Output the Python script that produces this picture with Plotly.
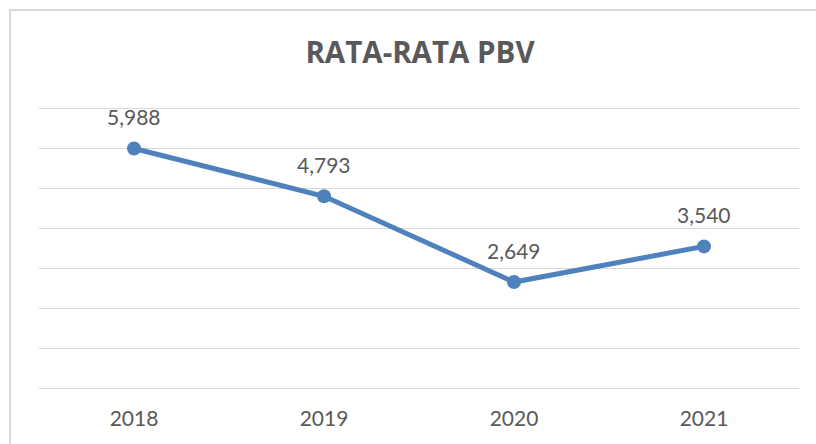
import plotly.graph_objects as go

years = ["2018", "2019", "2020", "2021"]
pbv = [5.988, 4.793, 2.649, 3.540]
labels = [f"{v:.3f}".replace(".", ",") for v in pbv]
title = "RATA-RATA PBV"

blue = "#4F81BD"
txt = "#595959"
grid = "#D9D9D9"
font = "Lato"

fig = go.Figure()
fig.add_trace(go.Scatter(
    x=years, y=pbv, mode="lines+markers",
    line=dict(color=blue, width=5),
    marker=dict(color=blue, size=14),
    hoverinfo="skip", cliponaxis=False,
))

annotations = [
    dict(x=i, y=y, xref="x", yref="y", text=t, showarrow=False, yshift=32,
         font=dict(family=font, size=21, color=txt))
    for i, (y, t) in enumerate(zip(pbv, labels))
]

# plot area: x 39..799, y 104..392 (range -0.1..7.1 -> 40 px per unit)
shapes = [dict(type="rect", xref="paper", yref="paper",
               x0=(10 - 39) / 760, x1=(830 - 39) / 760,
               y0=(392 - 460) / 288, y1=(392 - 10) / 288,
               line=dict(color=grid, width=2), layer="below")]

fig.update_layout(
    width=816, height=444,
    margin=dict(l=39, r=17, t=104, b=52),
    paper_bgcolor="white", plot_bgcolor="white",
    showlegend=False,
    annotations=annotations,
    shapes=shapes,
    title=dict(text=f"<b>{title}</b>", x=420 / 816, xanchor="center",
               y=1 - 53 / 444, yanchor="middle",
               font=dict(family="Open Sans", size=29.5, color=txt)),
    xaxis=dict(type="category", range=[-0.5, 3.5], showgrid=False,
               showline=False, zeroline=False, ticks="",
               ticklabelstandoff=12,
               tickfont=dict(family=font, size=21, color=txt)),
    yaxis=dict(range=[-0.1, 7.1], tick0=0, dtick=1, showgrid=True,
               gridcolor=grid, gridwidth=1, showticklabels=False,
               zeroline=False, showline=False, ticks=""),
)
fig.write_html("out.html", config={"displayModeBar": False})

with open("out.html", encoding="utf-8") as f:
    html = f.read()
html = html.replace("<body>", '<body style="margin:0;padding:0;">', 1)
with open("out.html", "w", encoding="utf-8") as f:
    f.write(html)
